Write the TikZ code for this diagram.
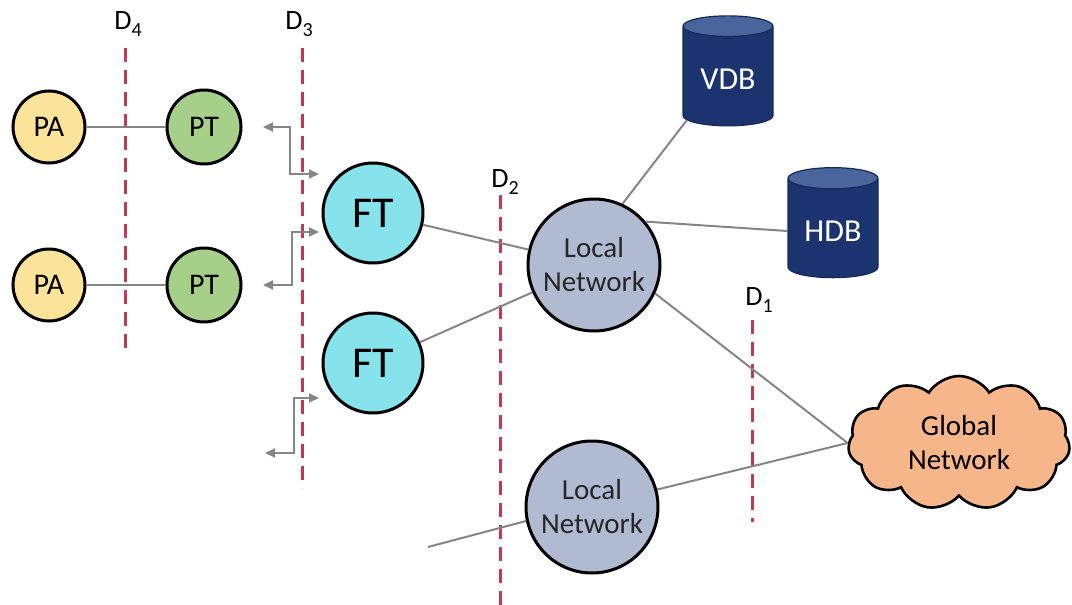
\documentclass[tikz,border=0pt]{standalone}
\usepackage{fontspec}
\setmainfont{Carlito}
\usetikzlibrary{shapes.geometric,shapes.symbols,arrows.meta}
\definecolor{paY}{HTML}{FCE39A}
\definecolor{ptG}{HTML}{A6CF8A}
\definecolor{ftC}{HTML}{86E3EC}
\definecolor{lnB}{HTML}{B0BBD2}
\definecolor{dbN}{HTML}{1B336E}
\definecolor{dbT}{HTML}{4A659C}
\definecolor{clO}{HTML}{F6B68A}
\definecolor{dashR}{HTML}{C03A4E}
\definecolor{conG}{HTML}{858585}
\newcommand{\dsub}[2]{D\raisebox{-0.55ex}{\fontsize{10}{11}\selectfont #1}}
\begin{document}
\begin{tikzpicture}[x=0.5pt,y=-0.5pt,
  circ/.style={circle,draw=black,line width=1.5pt,inner sep=0pt},
  pa/.style={circ,fill=paY,minimum size=36pt,font=\fontsize{15}{17}\selectfont},
  pt/.style={circ,fill=ptG,minimum size=37pt,font=\fontsize{15}{17}\selectfont},
  ft/.style={circ,fill=ftC,minimum size=50pt,font=\fontsize{22}{25}\selectfont},
  ln/.style={circ,fill=lnB,minimum size=66pt,align=center,font=\fontsize{14.5}{17}\selectfont,text=black!85},
  db/.style={cylinder,shape border rotate=90,aspect=0.3,draw=dbN!80!black,line width=0.6pt,
    cylinder uses custom fill,cylinder body fill=dbN,cylinder end fill=dbT,
    minimum width=45pt,minimum height=55pt,text=white,font=\fontsize{16}{18}\selectfont},
  cld/.style={cloud,cloud puffs=11,cloud puff arc=115,aspect=1.6,draw=black,line width=1.3pt,fill=clO,
    minimum width=111pt,minimum height=67pt,align=center,inner sep=0pt,font=\fontsize{14.5}{17}\selectfont},
  dline/.style={draw=dashR,line width=1.5pt,dash pattern=on 7pt off 4pt},
  dlab/.style={font=\fontsize{14}{16}\selectfont},
  con/.style={draw=conG,line width=1pt},
  arr/.style={draw=conG,line width=1pt,{Triangle[length=5pt,width=4.5pt]}-{Triangle[length=5pt,width=4.5pt]}}
]
\useasboundingbox (0,0) rectangle (1072,605);

% dashed boundaries
\coordinate (d4t) at (125,48); \coordinate (d4b) at (125,348);
\coordinate (d3t) at (302,48); \coordinate (d3b) at (302,488);
\coordinate (d2t) at (500,195); \coordinate (d2b) at (500,605);
\coordinate (d1t) at (752,320); \coordinate (d1b) at (752,522);
\draw[dline] (d4t) -- (d4b);
\draw[dline] (d3t) -- (d3b);
\draw[dline] (d2t) -- (d2b);
\draw[dline] (d1t) -- (d1b);
\node[dlab] (l4) at (128,24) {\dsub{4}{}};
\node[dlab] (l3) at (299,24) {\dsub{3}{}};
\node[dlab] (l2) at (505,182) {\dsub{2}{}};
\node[dlab] (l1) at (759,300) {\dsub{1}{}};

% nodes
\node[pa] (pa1) at (49,127) {PA};
\node[pt] (pt1) at (204,127) {PT};
\node[pa] (pa2) at (49,285) {PA};
\node[pt] (pt2) at (204,285) {PT};
\node[ft] (ft1) at (373,213) {FT};
\node[ft] (ft2) at (373,363) {FT};
\node[ln] (ln1) at (594,265) {Local\\Network};
\node[ln] (ln2) at (592,507) {Local\\Network};
\node[db] (vdb) at (728,79) {VDB};
\node[db] (hdb) at (833,231) {HDB};
\node[cld] (gn) at (959,443) {Global\\Network};

% connectors
\draw[con] (pa1) -- (pt1);
\draw[con] (pa2) -- (pt2);
\draw[con] (ft1) -- (ln1);
\draw[con] (ft2) -- (ln1);
\draw[con] (ln1.65) -- (vdb.south west);
\draw[con] (ln1.40) -- (hdb.west);
\draw[con] (ln1.-25) -- (gn.west);
\draw[con] (ln2.15) -- (gn.west);
\coordinate (free) at (428,547);
\draw[con] (ln2.192) -- (free);

% elbow arrows
\coordinate (a1s) at (263,127); \coordinate (a1e) at (319,174);
\coordinate (a2s) at (319,232); \coordinate (a2e) at (263,285);
\coordinate (a3s) at (319,398); \coordinate (a3e) at (265,453);
\draw[arr] (a1s) -- (290,127) -- (290,174) -- (a1e);
\draw[arr] (a2s) -- (292,232) -- (292,285) -- (a2e);
\draw[arr] (a3s) -- (294,398) -- (294,453) -- (a3e);
\end{tikzpicture}
\end{document}
